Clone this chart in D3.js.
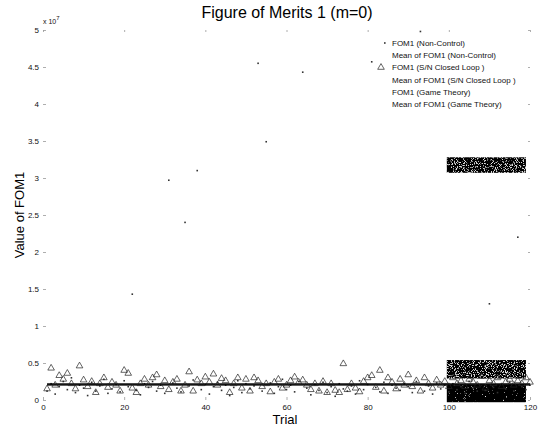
<!DOCTYPE html>
<html>
<head>
<meta charset="utf-8">
<script src="https://cdn.jsdelivr.net/npm/d3@7/dist/d3.min.js"></script>
<style>
  body { margin: 0; background: #fff; }
  svg { display: block; font-family: "Liberation Sans", Arial, sans-serif; }
</style>
</head>
<body>
<svg id="chart" width="545" height="427"></svg>
<script>
// Trials 1..120; FOM1 values are in units of 1e7
const trials = d3.range(1, 121);

// FOM1 without control: mostly small, with a few large excursions
const nonControl = [
  0.12,0.22,0.08,0.18,0.25,0.14,0.30,0.10,0.20,0.16,
  0.06,0.24,0.12,0.19,0.28,0.09,0.15,0.21,0.11,0.26,
  0.18,1.43,0.13,0.07,0.22,0.17,0.25,0.12,0.20,0.09,
  2.97,0.23,0.16,0.11,2.40,0.19,0.27,3.10,0.14,0.21,
  0.08,0.18,0.24,0.13,0.20,0.06,0.17,0.26,0.10,0.22,
  0.15,0.19,4.55,0.12,3.49,0.23,0.09,0.18,0.28,0.14,
  0.20,0.11,0.25,4.43,0.16,0.07,0.21,0.13,0.24,0.10,
  0.18,0.05,0.22,0.15,0.12,0.19,0.08,0.26,0.14,0.21,
  4.57,0.17,0.11,0.24,0.09,0.20,0.16,0.13,0.22,0.18,
  0.10,0.25,4.98,0.12,0.19,0.08,0.23,0.15,0.20,0.11,
  0.22,0.14,0.18,0.09,0.25,0.16,0.12,0.20,0.13,1.30,
  0.17,0.10,0.21,0.15,0.24,0.12,2.20,0.18,0.14,0.20
];

// FOM1 with S/N closed-loop control
const closedLoop = [
  0.15,0.43,0.20,0.33,0.28,0.36,0.22,0.15,0.46,0.27,
  0.18,0.25,0.10,0.22,0.30,0.17,0.24,0.20,0.12,0.40,
  0.36,0.16,0.10,0.22,0.28,0.20,0.30,0.34,0.18,0.26,
  0.14,0.24,0.28,0.12,0.20,0.38,0.12,0.27,0.22,0.31,
  0.24,0.35,0.20,0.29,0.26,0.10,0.22,0.30,0.16,0.28,
  0.12,0.30,0.26,0.18,0.22,0.11,0.24,0.28,0.16,0.20,
  0.26,0.31,0.24,0.27,0.20,0.14,0.22,0.12,0.25,0.10,
  0.22,0.13,0.10,0.49,0.14,0.22,0.16,0.11,0.25,0.30,
  0.33,0.17,0.40,0.12,0.30,0.24,0.15,0.28,0.20,0.34,
  0.18,0.26,0.12,0.30,0.22,0.16,0.27,0.20,0.25,0.18,
  0.30,0.22,0.26,0.18,0.28,0.24,0.20,0.32,0.16,0.26,
  0.22,0.30,0.18,0.24,0.28,0.20,0.26,0.22,0.30,0.24
];

// Means drawn as horizontal lines
const meanNonControl = 0.21;
const meanClosedLoop = 0.22;
const meanGameTheory = 0.20;

// Game-theory results, shown as dense bands over trials 100-120
const gameBands = [
  { t0: 99.5, t1: 119, lo: 3.07, hi: 3.28, filter: "speckleDense" },
  { t0: 99.5, t1: 119, lo: 0.29, hi: 0.54, filter: "speckleDense" },
  { t0: 99.5, t1: 119, lo: -0.03, hi: 0.21, filter: "speckleSparse" }
];

const xTicks = [0, 20, 40, 60, 80, 100, 120];
const yTicks = [0, 0.5, 1, 1.5, 2, 2.5, 3, 3.5, 4, 4.5, 5];

const legendItems = [
  { label: "FOM1 (Non-Control)", marker: "dot" },
  { label: "Mean of FOM1 (Non-Control)", marker: null },
  { label: "FOM1 (S/N Closed Loop )", marker: "triangle" },
  { label: "Mean of FOM1 (S/N Closed Loop )", marker: null },
  { label: "FOM1 (Game Theory)", marker: null },
  { label: "Mean of FOM1 (Game Theory)", marker: null }
];

const svg = d3.select("#chart");
const x = d3.scaleLinear().domain([0, 120]).range([43, 530]);
const y = d3.scaleLinear().domain([0, 5]).range([400, 30]);

// Speckle filters for the dense bands (grey flecks on black)
const defs = svg.append("defs");
function speckle(id, gain, offset, grey) {
  const f = defs.append("filter").attr("id", id)
    .attr("x", 0).attr("y", 0).attr("width", 1).attr("height", 1)
    .attr("filterUnits", "objectBoundingBox");
  f.append("feTurbulence").attr("type", "fractalNoise")
    .attr("baseFrequency", 0.9).attr("numOctaves", 2).attr("seed", 7).attr("result", "n");
  f.append("feColorMatrix").attr("in", "n").attr("type", "matrix")
    .attr("values", `0 0 0 0 ${grey}  0 0 0 0 ${grey}  0 0 0 0 ${grey}  ${gain} 0 0 0 ${offset}`)
    .attr("result", "w");
  f.append("feComposite").attr("in", "w").attr("in2", "SourceGraphic")
    .attr("operator", "in").attr("result", "w2");
  const m = f.append("feMerge");
  m.append("feMergeNode").attr("in", "SourceGraphic");
  m.append("feMergeNode").attr("in", "w2");
}
speckle("speckleDense", 8, -4.4, 0.75);
speckle("speckleSparse", 8, -5.6, 0.8);

// Axes: inward ticks on all four sides, no box line
const tickColor = "#999";
const gx = svg.append("g").attr("transform", `translate(0,${y(0)})`)
  .call(d3.axisBottom(x).tickValues(xTicks).tickSize(-3).tickPadding(4).tickFormat(d3.format("d")));
const gy = svg.append("g").attr("transform", `translate(${x(0)},0)`)
  .call(d3.axisLeft(y).tickValues(yTicks).tickSize(-3).tickPadding(4).tickFormat(d3.format("~g")));
const gt = svg.append("g").attr("transform", `translate(0,${y(5)})`)
  .call(d3.axisTop(x).tickValues(xTicks).tickSize(-2).tickFormat(""));
const gr = svg.append("g").attr("transform", `translate(${x(120)},0)`)
  .call(d3.axisRight(y).tickValues(yTicks).tickSize(-2).tickFormat(""));
[gx, gy, gt, gr].forEach(g => {
  g.select(".domain").remove();
  g.selectAll(".tick line").attr("stroke", tickColor).attr("stroke-width", 0.8);
  g.selectAll(".tick text").attr("fill", "#111").style("font-size", "8px");
});

// Exponent label
svg.append("text").attr("x", 43).attr("y", 24).style("font-size", "7px").attr("fill", "#111")
  .text("x 10").append("tspan").attr("dy", -4).style("font-size", "6px").text("7");

// Game-theory bands
svg.append("g").selectAll("rect").data(gameBands).join("rect")
  .attr("x", d => x(d.t0)).attr("width", d => x(d.t1) - x(d.t0))
  .attr("y", d => y(d.hi)).attr("height", d => y(d.lo) - y(d.hi))
  .attr("fill", "#050505").attr("filter", d => `url(#${d.filter})`);

// Non-control points
svg.append("g").selectAll("rect").data(trials).join("rect")
  .attr("x", t => x(t) - 0.8).attr("y", (t, i) => y(nonControl[i]) - 0.8)
  .attr("width", 1.6).attr("height", 1.6).attr("fill", "#333");

// Mean lines
const means = [meanNonControl, meanClosedLoop, meanGameTheory];
svg.append("g").selectAll("line").data(means).join("line")
  .attr("x1", x(1)).attr("x2", x(120)).attr("y1", d => y(d)).attr("y2", d => y(d))
  .attr("stroke", "#000").attr("stroke-width", 0.9);

// Closed-loop points as open triangles
const tri = d3.symbol().type(d3.symbolTriangle).size(19);
svg.append("g").selectAll("path").data(trials).join("path")
  .attr("d", tri)
  .attr("transform", (t, i) => `translate(${x(t)},${y(closedLoop[i])})`)
  .attr("fill", "none").attr("stroke", "#222").attr("stroke-width", 0.7);

// Legend (no frame)
const lg = svg.append("g");
legendItems.forEach((d, i) => {
  const yy = 43 + i * 12.2;
  lg.append("text").attr("x", 392).attr("y", yy + 3).style("font-size", "8px").attr("fill", "#111").text(d.label);
  if (d.marker === "dot") {
    lg.append("rect").attr("x", 384).attr("y", yy - 0.8).attr("width", 1.6).attr("height", 1.6).attr("fill", "#333");
  } else if (d.marker === "triangle") {
    lg.append("path").attr("d", tri).attr("transform", `translate(381,${yy})`)
      .attr("fill", "none").attr("stroke", "#222").attr("stroke-width", 0.7);
  }
});

// Title and axis labels
svg.append("text").attr("x", 287).attr("y", 18).attr("text-anchor", "middle")
  .style("font-size", "16px").attr("fill", "#000").text("Figure of Merits 1 (m=0)");
svg.append("text").attr("x", 285).attr("y", 424).attr("text-anchor", "middle")
  .style("font-size", "13px").attr("fill", "#000").text("Trial");
svg.append("text").attr("transform", "translate(24,215) rotate(-90)").attr("text-anchor", "middle")
  .style("font-size", "13px").attr("fill", "#000").text("Value of FOM1");
</script>
</body>
</html>
